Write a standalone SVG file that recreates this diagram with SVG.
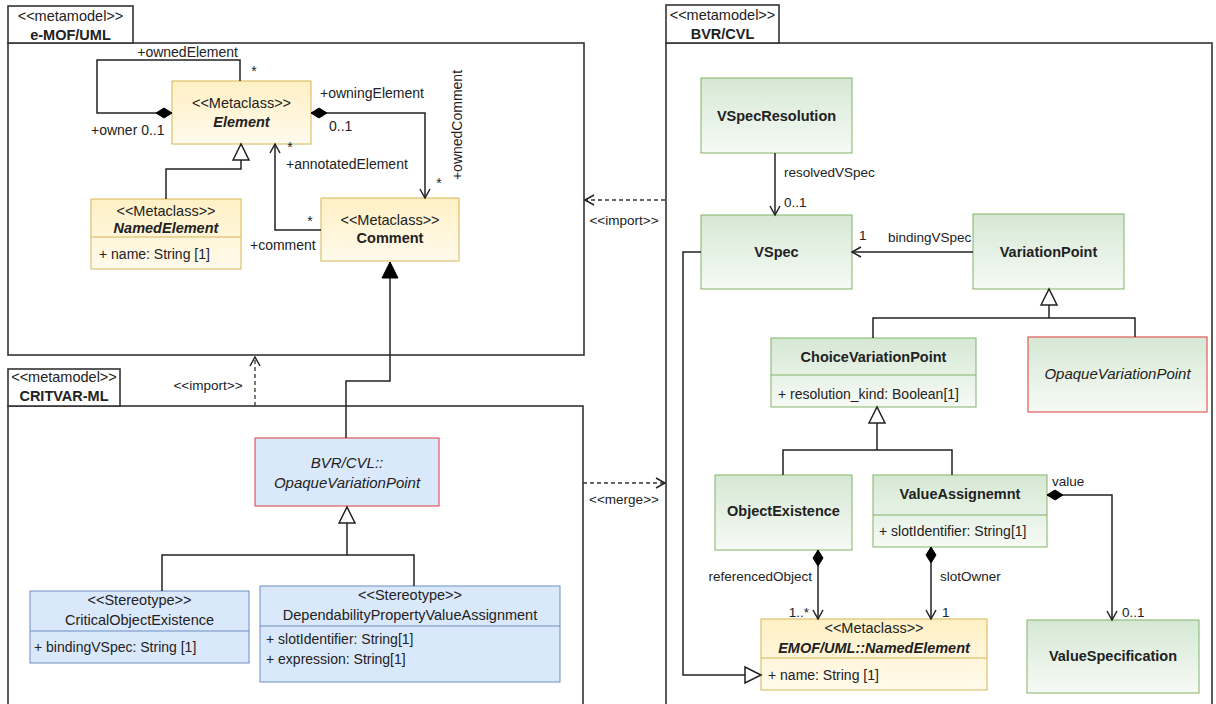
<svg xmlns="http://www.w3.org/2000/svg" width="1216" height="704" viewBox="0 0 1216 704">
<style>
text{font-family:"Liberation Sans",Arial,sans-serif;fill:#222}
.pk{fill:#fff;stroke:#333;stroke-width:1.6}
.st{font-size:14.5px;text-anchor:middle}
.pn{font-size:14.5px;font-weight:bold;text-anchor:middle}
.cn{font-size:14.5px;font-weight:bold;text-anchor:middle}
.it{font-size:15px;font-style:italic;text-anchor:middle}
.bi{font-size:14.5px;font-weight:bold;font-style:italic;text-anchor:middle}
.at{font-size:14px}
.lb{font-size:14px}
.lb2{font-size:13.5px}
.ye{fill:url(#gy);stroke:#d6b656;stroke-width:1}
.gr{fill:url(#gg);stroke:#82b366;stroke-width:1}
.grr{fill:url(#gg);stroke:#e05a5a;stroke-width:1.2}
.bl{fill:#dae8fc;stroke:#6c8ebf;stroke-width:1}
.blr{fill:#dae8fc;stroke:#e05a5a;stroke-width:1.2}
.dv{stroke-width:1}
.ln{fill:none;stroke:#222;stroke-width:1.5}
.da{fill:none;stroke:#333;stroke-width:1.3;stroke-dasharray:4 3}
</style>
<defs>
<linearGradient id="gy" x1="0" y1="0" x2="0" y2="1"><stop offset="0" stop-color="#fff0c4"/><stop offset="1" stop-color="#fffaec"/></linearGradient>
<linearGradient id="gg" x1="0" y1="0" x2="0" y2="1"><stop offset="0" stop-color="#d5e8d4"/><stop offset="1" stop-color="#f6faf5"/></linearGradient>
<marker id="open" markerUnits="userSpaceOnUse" markerWidth="12" markerHeight="12" refX="10" refY="5" orient="auto" overflow="visible"><path d="M1,0 L10,5 L1,10" fill="none" stroke="#222" stroke-width="1.5" stroke-dasharray="none"/></marker>
<marker id="tri" markerUnits="userSpaceOnUse" markerWidth="18" markerHeight="18" refX="16" refY="8" orient="auto" overflow="visible"><path d="M0,0 L16,8 L0,16 Z" fill="#fff" stroke="#222" stroke-width="1.5"/></marker>
<marker id="ftri" markerUnits="userSpaceOnUse" markerWidth="18" markerHeight="18" refX="16" refY="8" orient="auto" overflow="visible"><path d="M0,0 L16,8 L0,16 Z" fill="#000" stroke="#000" stroke-width="1"/></marker>
<marker id="dia" markerUnits="userSpaceOnUse" markerWidth="18" markerHeight="12" refX="0" refY="5" orient="auto" overflow="visible"><path d="M0,5 L8,0 L16,5 L8,10 Z" fill="#000" stroke="#000" stroke-width="1"/></marker>
</defs>

<g id="pkg-emof">
<rect class="pk" x="8" y="43" width="576" height="312"/>
<rect class="pk" x="8" y="6" width="125" height="37"/>
<text class="st" x="70.5" y="21">&lt;&lt;metamodel&gt;&gt;</text>
<text class="pn" x="70.5" y="40">e-MOF/UML</text>
</g>
<g id="pkg-critvar">
<rect class="pk" x="8" y="406" width="575" height="310"/>
<rect class="pk" x="8" y="369" width="112" height="37"/>
<text class="st" x="64" y="382">&lt;&lt;metamodel&gt;&gt;</text>
<text class="pn" x="64" y="401">CRITVAR-ML</text>
</g>
<g id="pkg-bvr">
<rect class="pk" x="666" y="43" width="546" height="673"/>
<rect class="pk" x="666" y="5" width="113" height="38"/>
<text class="st" x="722.5" y="20">&lt;&lt;metamodel&gt;&gt;</text>
<text class="pn" x="722.5" y="39">BVR/CVL</text>
</g>

<g id="Element">
<rect class="ye" x="172" y="81" width="139" height="63"/>
<text class="st" x="241.5" y="108">&lt;&lt;Metaclass&gt;&gt;</text>
<text class="bi" x="241.5" y="127">Element</text>
</g>
<g id="NamedElement">
<rect class="ye" x="91" y="199" width="150" height="70"/>
<line class="dv" x1="91" y1="237" x2="241" y2="237" stroke="#d6b656"/>
<text class="st" x="166" y="216">&lt;&lt;Metaclass&gt;&gt;</text>
<text class="bi" x="166" y="233">NamedElement</text>
<text class="at" x="99" y="259">+ name: String [1]</text>
</g>
<g id="Comment">
<rect class="ye" x="321" y="198" width="138" height="63"/>
<text class="st" x="390" y="225">&lt;&lt;Metaclass&gt;&gt;</text>
<text class="cn" x="390" y="243">Comment</text>
</g>

<g id="CritOVP">
<rect class="blr" x="255" y="438" width="184" height="68"/>
<text class="it" x="347" y="468">BVR/CVL::</text>
<text class="it" x="347" y="488">OpaqueVariationPoint</text>
</g>
<g id="CriticalObjectExistence">
<rect class="bl" x="30" y="591" width="219" height="72"/>
<line class="dv" x1="30" y1="631" x2="249" y2="631" stroke="#6c8ebf"/>
<text class="st" x="139.5" y="605">&lt;&lt;Stereotype&gt;&gt;</text>
<text class="st" x="139.5" y="625">CriticalObjectExistence</text>
<text class="at" x="34" y="652">+ bindingVSpec: String [1]</text>
</g>
<g id="DependabilityPropertyValueAssignment">
<rect class="bl" x="260" y="586" width="300" height="96"/>
<line class="dv" x1="260" y1="626" x2="560" y2="626" stroke="#6c8ebf"/>
<text class="st" x="410" y="600">&lt;&lt;Stereotype&gt;&gt;</text>
<text class="st" x="410" y="620">DependabilityPropertyValueAssignment</text>
<text class="at" x="266" y="644">+ slotIdentifier: String[1]</text>
<text class="at" x="266" y="664">+ expression: String[1]</text>
</g>

<g id="VSpecResolution">
<rect class="gr" x="701" y="78" width="151" height="75"/>
<text class="cn" x="776.5" y="121">VSpecResolution</text>
</g>
<g id="VSpec">
<rect class="gr" x="701" y="215" width="151" height="74"/>
<text class="cn" x="776.5" y="257">VSpec</text>
</g>
<g id="VariationPoint">
<rect class="gr" x="973" y="214" width="151" height="75"/>
<text class="cn" x="1048.5" y="257">VariationPoint</text>
</g>
<g id="ChoiceVariationPoint">
<rect class="gr" x="771" y="338" width="205" height="69"/>
<line class="dv" x1="771" y1="375" x2="976" y2="375" stroke="#82b366"/>
<text class="cn" x="873.5" y="362">ChoiceVariationPoint</text>
<text class="at" x="778" y="399">+ resolution_kind: Boolean[1]</text>
</g>
<g id="OpaqueVariationPoint">
<rect class="grr" x="1028" y="337" width="179" height="75"/>
<text class="it" x="1117.5" y="379">OpaqueVariationPoint</text>
</g>
<g id="ObjectExistence">
<rect class="gr" x="715" y="475" width="137" height="75"/>
<text class="cn" x="783.5" y="516">ObjectExistence</text>
</g>
<g id="ValueAssignemnt">
<rect class="gr" x="873" y="475" width="174" height="72"/>
<line class="dv" x1="873" y1="515" x2="1047" y2="515" stroke="#82b366"/>
<text class="cn" x="960" y="499">ValueAssignemnt</text>
<text class="at" x="879" y="536">+ slotIdentifier: String[1]</text>
</g>
<g id="EmofNamedElement">
<rect class="ye" x="761" y="619" width="226" height="71"/>
<line class="dv" x1="761" y1="658" x2="987" y2="658" stroke="#d6b656"/>
<text class="st" x="874" y="633">&lt;&lt;Metaclass&gt;&gt;</text>
<text class="bi" x="874" y="653">EMOF/UML::NamedElement</text>
<text class="at" x="768" y="680">+ name: String [1]</text>
</g>
<g id="ValueSpecification">
<rect class="gr" x="1027" y="620" width="172" height="73"/>
<text class="cn" x="1113" y="661">ValueSpecification</text>
</g>

<g id="connectors">
<path class="ln" d="M172,113 H97 V60 H240 V81" marker-start="url(#dia)"/>
<path class="ln" d="M311,113 H425 V198" marker-start="url(#dia)" marker-end="url(#open)"/>
<path class="ln" d="M321,230 H275 V144" marker-end="url(#open)"/>
<path class="ln" d="M166,199 V169 H241 V144" marker-end="url(#tri)"/>
<path class="ln" d="M346,438 V381 H390 V262" marker-end="url(#ftri)"/>
<path class="ln" d="M162,591 V555 H414 V586"/>
<path class="ln" d="M347,555 V507" marker-end="url(#tri)"/>
<path class="da" d="M255,406 V357" marker-end="url(#open)"/>
<path class="da" d="M665,200 H585" marker-end="url(#open)"/>
<path class="da" d="M583,483 H665" marker-end="url(#open)"/>
<path class="ln" d="M775,153 V215" marker-end="url(#open)"/>
<path class="ln" d="M973,252 H852" marker-end="url(#open)"/>
<path class="ln" d="M873,338 V318 H1135 V337"/>
<path class="ln" d="M1049,318 V289" marker-end="url(#tri)"/>
<path class="ln" d="M783,475 V450 H952 V475"/>
<path class="ln" d="M877,450 V407" marker-end="url(#tri)"/>
<path class="ln" d="M818,550 V619" marker-start="url(#dia)" marker-end="url(#open)"/>
<path class="ln" d="M931,547 V619" marker-start="url(#dia)" marker-end="url(#open)"/>
<path class="ln" d="M1047,495 H1112 V620" marker-start="url(#dia)" marker-end="url(#open)"/>
<path class="ln" d="M701,252 H683 V675 H761" marker-end="url(#tri)"/>
<text class="lb" x="238" y="57" text-anchor="end">+ownedElement</text>
<text class="lb" x="254" y="76" text-anchor="middle">*</text>
<text class="lb" x="91" y="135">+owner 0..1</text>
<text class="lb" x="320" y="98">+owningElement</text>
<text class="lb" x="329" y="131">0..1</text>
<text class="lb" x="462" y="125" text-anchor="middle" transform="rotate(-90 462 125)">+ownedComment</text>
<text class="lb" x="439" y="188" text-anchor="middle">*</text>
<text class="lb" x="290" y="152" text-anchor="middle">*</text>
<text class="lb" x="286" y="169">+annotatedElement</text>
<text class="lb" x="310" y="226" text-anchor="middle">*</text>
<text class="lb" x="250" y="250">+comment</text>
<text class="lb2" x="208" y="390" text-anchor="middle">&lt;&lt;import&gt;&gt;</text>
<text class="lb2" x="624" y="225" text-anchor="middle">&lt;&lt;import&gt;&gt;</text>
<text class="lb2" x="624" y="504" text-anchor="middle">&lt;&lt;merge&gt;&gt;</text>
<text class="lb2" x="784" y="177">resolvedVSpec</text>
<text class="lb2" x="784" y="207">0..1</text>
<text class="lb2" x="859" y="240">1</text>
<text class="lb2" x="888" y="242">bindingVSpec</text>
<text class="lb2" x="1052" y="486">value</text>
<text class="lb2" x="812" y="581" text-anchor="end">referencedObject</text>
<text class="lb2" x="940" y="581">slotOwner</text>
<text class="lb2" x="809" y="617" text-anchor="end">1..*</text>
<text class="lb2" x="942" y="617">1</text>
<text class="lb2" x="1122" y="617">0..1</text>
</g>
</svg>
